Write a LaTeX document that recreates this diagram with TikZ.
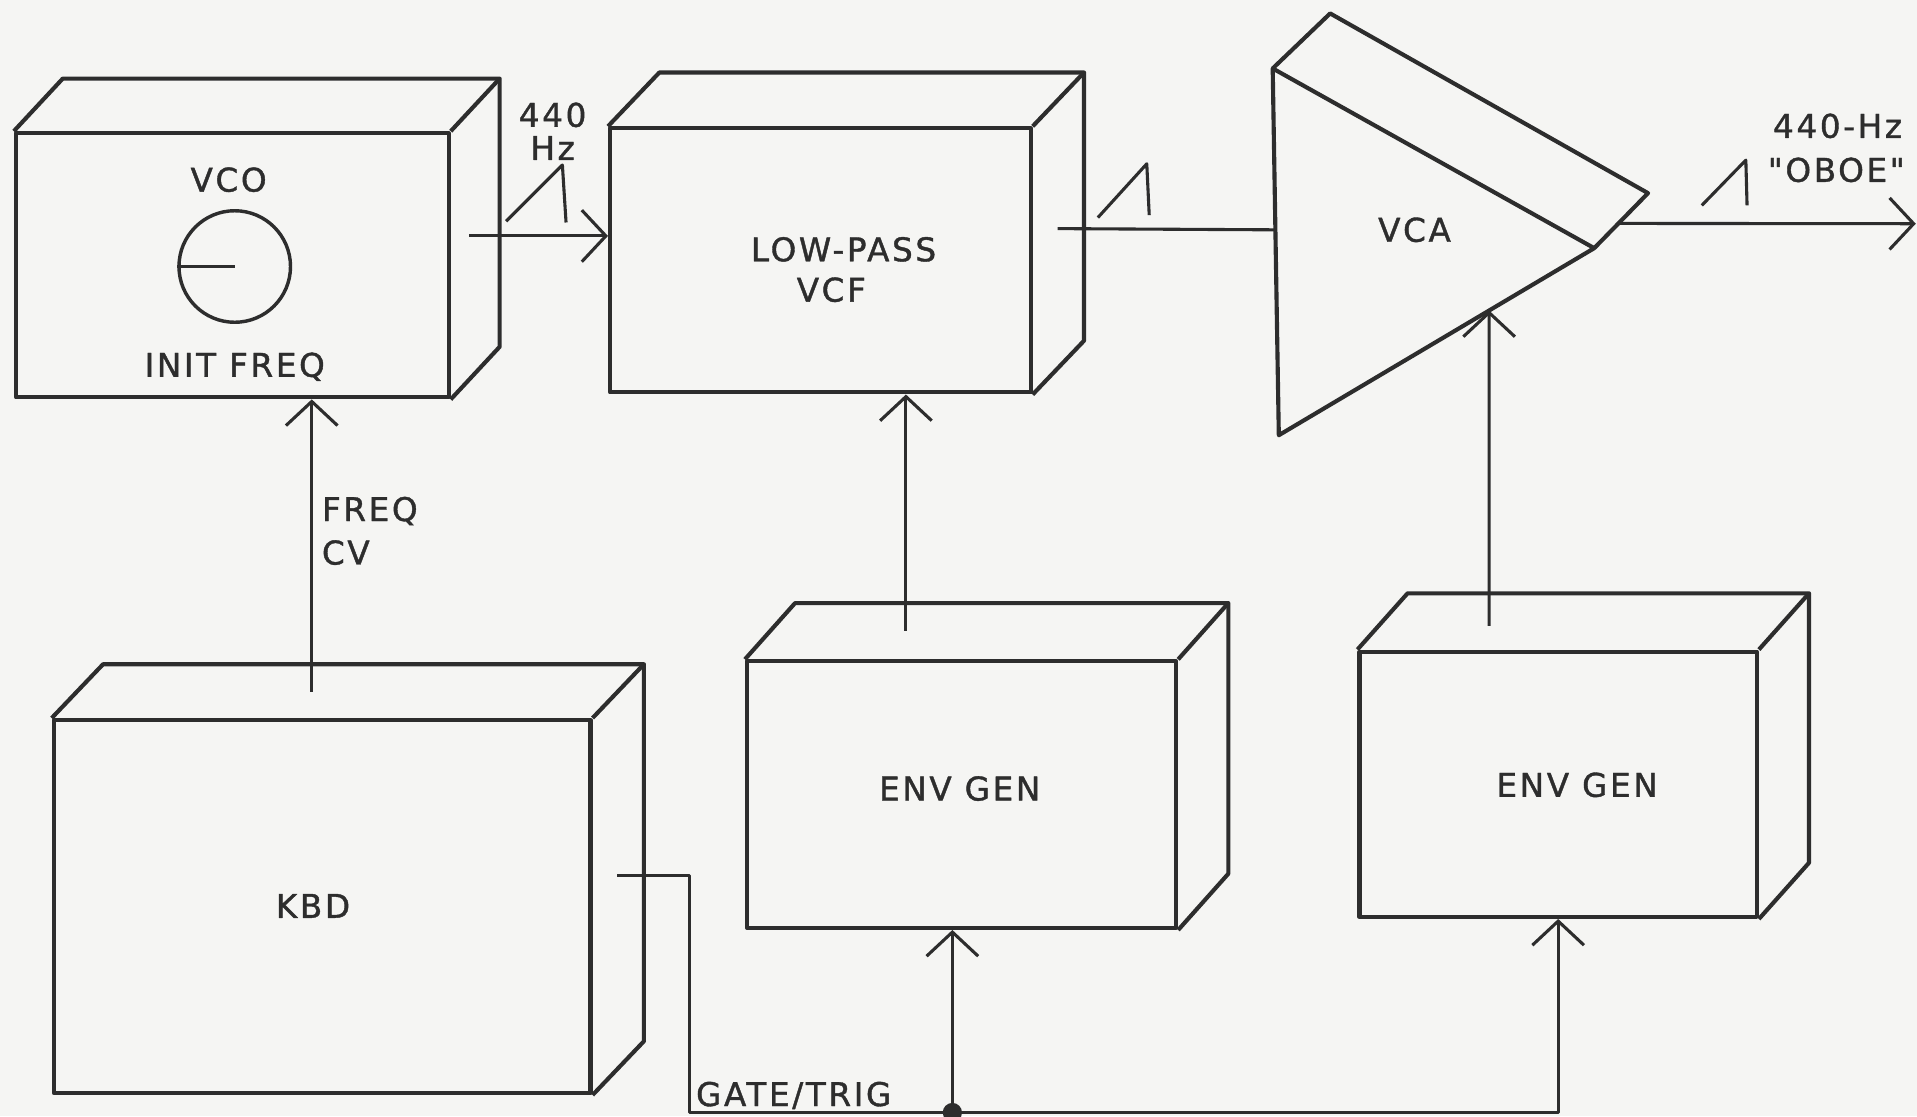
\documentclass[tikz,border=0pt]{standalone}
\usepackage{fontspec}
\setmainfont{DejaVu Sans}[LetterSpace=8, FakeBold=1.2, Ligatures=TeXOff]
\usetikzlibrary{arrows.meta, calc, fit}

\definecolor{ink}{RGB}{45,45,45}
\definecolor{paper}{RGB}{245,245,243}

\begin{document}
\begin{tikzpicture}[x=0.0125cm, y=-0.0125cm, line join=round,
	box/.style={draw=ink, line width=1.2pt, inner sep=0pt},
	edge/.style={draw=ink, line width=1.2pt},
	wire/.style={draw=ink, line width=0.9pt},
	sig/.style={wire, -{Straight Barb[length=7pt, width=15pt]}},
	lbl/.style={text=ink, font=\fontsize{9.5}{11}\selectfont, inner sep=1pt}]
	
	% --- Paper ---
	\fill[paper] (0,0) rectangle (1568,913);
	\useasboundingbox (0,0) rectangle (1568,913);
	
	% =======================================================
	% BOXES (front faces)
	% =======================================================
	\node[box, fit={(13,109) (367,325)}] (vco) {};
	\node[box, fit={(499,105) (843,321)}] (vcf) {};
	\node[box, fit={(44,589) (483,894)}] (kbd) {};
	\node[box, fit={(611,541) (962,759)}] (envA) {};
	\node[box, fit={(1112,533) (1437,750)}] (envB) {};
	
	% Top and side faces
	\foreach \b/\dx/\dy in {vco/40/-43, vcf/42/-44, kbd/42/-44, envA/41/-46, envB/41/-46} {
		\draw[edge] (\b.north west) -- ++(\dx,\dy) -| ($(\b.south east)+(\dx,\dy)$) -- (\b.south east);
		\draw[edge] (\b.north east) -- ++(\dx,\dy);
	}
	
	% --- VCA (triangle with slab) ---
	\coordinate (vcaA) at (1041,56);
	\coordinate (vcaB) at (1088,11);
	\coordinate (vcaC) at (1348,158);
	\coordinate (vcaD) at (1304,203);
	\coordinate (vcaE) at (1046,356);
	\draw[edge] (vcaA) -- (vcaD) -- (vcaE) -- cycle;
	\draw[edge] (vcaA) -- (vcaB) -- (vcaC) -- (vcaD);
	
	% --- VCO knob ---
	\node[draw=ink, line width=1pt, circle, minimum size=1.14cm, inner sep=0pt] (knob) at (192,218) {};
	\draw[wire] (knob.west) -- (knob.center);
	
	% =======================================================
	% LABELS
	% =======================================================
	\node[lbl] (vcolbl) at (187,147) {VCO};
	\node[lbl] (initlbl) at (192,300) {INIT FREQ};
	\node[lbl] (vcflblA) at (690,204) {LOW-PASS};
	\node[lbl] (vcflblB) at (680,237) {VCF};
	\node[lbl] (vcalbl) at (1157,188) {VCA};
	\node[lbl] (kbdlbl) at (256,741) {KBD};
	\node[lbl] (envAlbl) at (785,645) {ENV GEN};
	\node[lbl] (envBlbl) at (1290,642) {ENV GEN};
	\node[lbl] (hzA) at (452,94) {440};
	\node[lbl] (hzB) at (452,121) {Hz};
	\node[lbl] (oboeA) at (1503,103) {440-Hz};
	\node[lbl] (oboeB) at (1502,139) {"OBOE"};
	\node[lbl, anchor=west] (cvA) at (260,418) {FREQ};
	\node[lbl, anchor=west] (cvB) at (260,452) {CV};
	\node[lbl, anchor=west] (gatelbl) at (566,896) {GATE/TRIG};
	
	% =======================================================
	% CONNECTORS
	% =======================================================
	\coordinate (vcoout) at (384,193);
	\coordinate (vcfout) at (865,187);
	\coordinate (vcaout) at ($(vcaC)!0.55!(vcaD)$);
	\coordinate (oboe) at (1567,183);
	\coordinate (kbdtop) at (255,566);
	\coordinate (kbdgate) at (505,716);
	\coordinate (envAtop) at (741,516);
	\coordinate (envBtop) at (1218,512);
	\coordinate (vcacv) at ($(vcaD)!0.3333!(vcaE)$);
	\coordinate (gatejoin) at (779,910);
	
	\draw[sig] (vcoout) -- (vcoout -| vcf.west);
	\draw[wire] (vcfout) -- ($(vcaA)!0.44!(vcaE)$);
	\draw[sig] (vcaout) -- (oboe);
	\draw[sig] (kbdtop) -- (kbdtop |- vco.south);
	\draw[sig] (envAtop) -- (envAtop |- vcf.south);
	\draw[sig] (envBtop) -- (vcacv);
	
	% Gate / trigger bus
	\draw[wire] (kbdgate) -- ++(59,0) |- (gatejoin);
	\draw[sig] (gatejoin) -- (gatejoin |- envA.south);
	\draw[sig] (gatejoin) -| (envB.south);
	\fill[ink] (gatejoin) circle (2.8pt);
	
	% --- Sawtooth marks ---
	\draw[wire] (414,181) -- (460,135) -- (463,182);
	\draw[wire] (898,178) -- (938,134) -- (940,176);
	\draw[wire] (1392,168) -- (1428,131) -- (1429,168);
	
\end{tikzpicture}
\end{document}
